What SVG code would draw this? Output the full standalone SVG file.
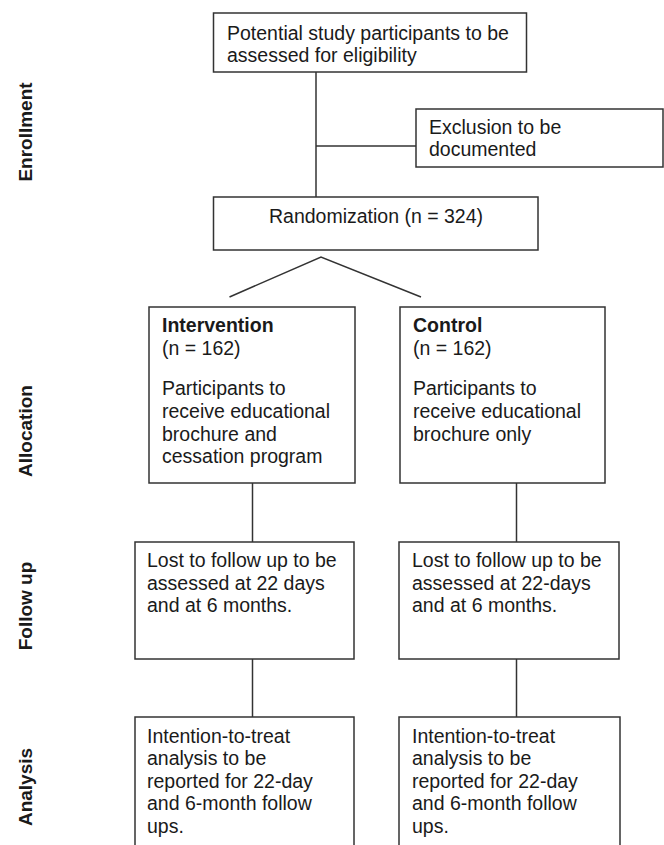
<svg xmlns="http://www.w3.org/2000/svg" width="664" height="845" viewBox="0 0 664 845">
<style>
.box{fill:#fff;stroke:#333;stroke-width:1.5}
.ln{fill:none;stroke:#333;stroke-width:1.5}
.t{font-family:"Liberation Sans",Arial,sans-serif;font-size:19.5px;fill:#1a1a1a}
.b{font-weight:bold}
.side{font-family:"Liberation Sans",Arial,sans-serif;font-size:19px;font-weight:bold;fill:#1a1a1a;text-anchor:middle}
</style>
<rect width="664" height="845" fill="#fff"/>
<g id="labels">
<text class="side" transform="translate(32,132) rotate(-90)">Enrollment</text>
<text class="side" transform="translate(32,431) rotate(-90)">Allocation</text>
<text class="side" transform="translate(32,606) rotate(-90)">Follow up</text>
<text class="side" transform="translate(32,787) rotate(-90)">Analysis</text>
</g>
<g id="connectors">
<line class="ln" x1="316" y1="72" x2="316" y2="197"/>
<line class="ln" x1="316" y1="146" x2="416" y2="146"/>
<polyline class="ln" points="229.5,297 321,257 421,297"/>
<line class="ln" x1="252.5" y1="483" x2="252.5" y2="542"/>
<line class="ln" x1="516.5" y1="483" x2="516.5" y2="542"/>
<line class="ln" x1="252.5" y1="659" x2="252.5" y2="717"/>
<line class="ln" x1="516.5" y1="659" x2="516.5" y2="717"/>
</g>
<g id="potential">
<rect class="box" x="213.5" y="13" width="313" height="59"/>
<text class="t" x="227" y="39.5">Potential study participants to be</text>
<text class="t" x="227" y="61.5">assessed for eligibility</text>
</g>
<g id="exclusion">
<rect class="box" x="416" y="109" width="247" height="58"/>
<text class="t" x="429" y="133.5">Exclusion to be</text>
<text class="t" x="429" y="155.5">documented</text>
</g>
<g id="randomization">
<rect class="box" x="213.5" y="197" width="324.5" height="53"/>
<text class="t" x="376" y="222.5" text-anchor="middle">Randomization (n = 324)</text>
</g>
<g id="intervention">
<rect class="box" x="149" y="307" width="206" height="176"/>
<text class="t b" x="162" y="332">Intervention</text>
<text class="t" x="162" y="355">(n = 162)</text>
<text class="t" x="162" y="395">Participants to</text>
<text class="t" x="162" y="418">receive educational</text>
<text class="t" x="162" y="440.5">brochure and</text>
<text class="t" x="162" y="463">cessation program</text>
</g>
<g id="control">
<rect class="box" x="400" y="307" width="205" height="176"/>
<text class="t b" x="413" y="332">Control</text>
<text class="t" x="413" y="355">(n = 162)</text>
<text class="t" x="413" y="395">Participants to</text>
<text class="t" x="413" y="418">receive educational</text>
<text class="t" x="413" y="440.5">brochure only</text>
</g>
<g id="followup-intervention">
<rect class="box" x="135" y="542" width="219" height="117"/>
<text class="t" x="147" y="567">Lost to follow up to be</text>
<text class="t" x="147" y="589.5">assessed at 22 days</text>
<text class="t" x="147" y="612">and at 6 months.</text>
</g>
<g id="followup-control">
<rect class="box" x="399" y="542" width="220" height="117"/>
<text class="t" x="412" y="567">Lost to follow up to be</text>
<text class="t" x="412" y="589.5">assessed at 22-days</text>
<text class="t" x="412" y="612">and at 6 months.</text>
</g>
<g id="analysis-intervention">
<rect class="box" x="135" y="717" width="219" height="140"/>
<text class="t" x="147" y="742.5">Intention-to-treat</text>
<text class="t" x="147" y="765">analysis to be</text>
<text class="t" x="147" y="787.5">reported for 22-day</text>
<text class="t" x="147" y="810">and 6-month follow</text>
<text class="t" x="147" y="832.5">ups.</text>
</g>
<g id="analysis-control">
<rect class="box" x="399" y="717" width="221" height="140"/>
<text class="t" x="412" y="742.5">Intention-to-treat</text>
<text class="t" x="412" y="765">analysis to be</text>
<text class="t" x="412" y="787.5">reported for 22-day</text>
<text class="t" x="412" y="810">and 6-month follow</text>
<text class="t" x="412" y="832.5">ups.</text>
</g>
</svg>
